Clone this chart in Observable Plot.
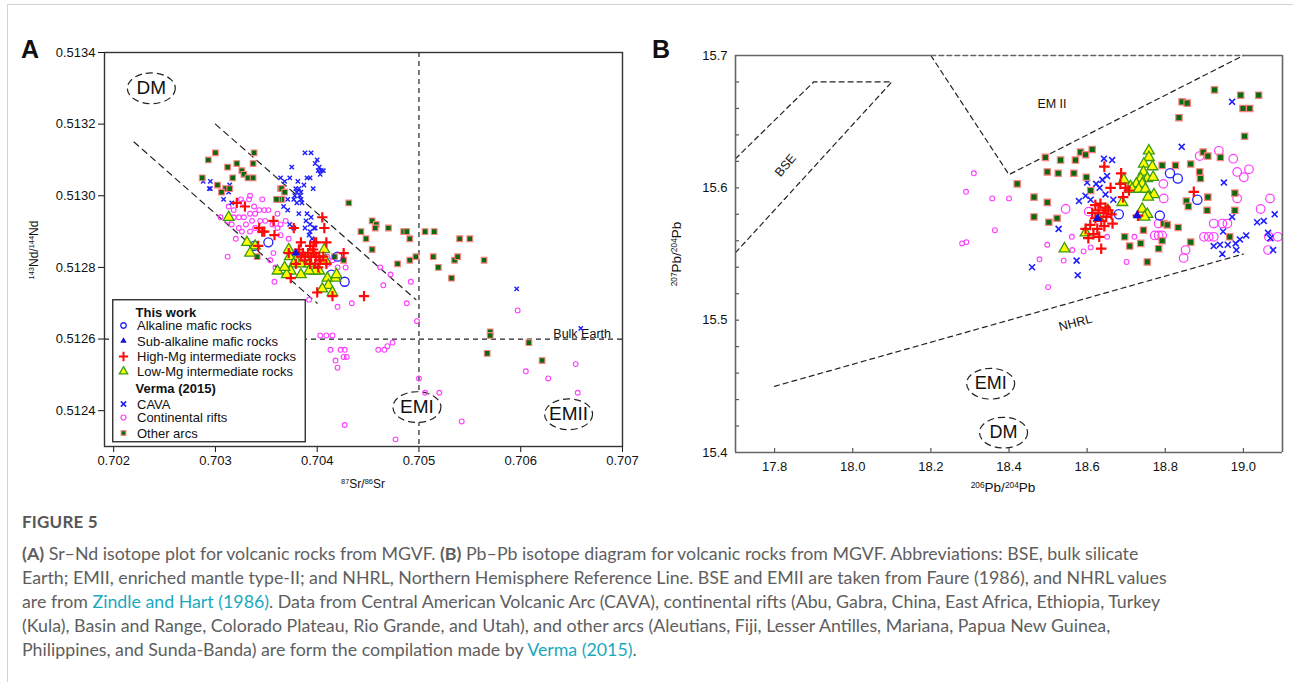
<!DOCTYPE html>
<html>
<head>
<meta charset="utf-8">
<script src="https://cdn.jsdelivr.net/npm/d3@7"></script>
<script src="https://cdn.jsdelivr.net/npm/@observablehq/plot@0.6"></script>
<style>
  html, body { margin: 0; padding: 0; background: #fff; }
  #page { position: relative; width: 1293px; height: 682px; overflow: hidden; background: #fff; }
  #card { position: absolute; left: 7px; top: 4px; width: 1300px; height: 700px; border-left: 1px solid #d4d4d4; border-top: 1px solid #d4d4d4; }
  .panel { position: absolute; top: 0; }
  .plabel { position: absolute; font-family: "Liberation Sans", Arial, sans-serif; font-weight: bold; font-size: 25px; color: #111; }
  .axl { position: absolute; font-family: "Liberation Sans", Arial, sans-serif; color: #111; white-space: nowrap; line-height: 1; }
  .axl sup { font-size: 0.62em; vertical-align: 0.55em; line-height: 0; }
  #cap { position: absolute; left: 22px; top: 511px; font-family: Lato, "Open Sans", sans-serif; color: #5e5e5e; }
  #cap .fig { font-size: 17px; font-weight: 700; line-height: 22px; color: #575757; letter-spacing: 0.2px; }
  #cap .body { font-size: 17.8px; line-height: 24px; white-space: nowrap; margin-top: 8px; }
  #cap .lnk { color: #19a9bd; }
  svg text { font-family: "Liberation Sans", Arial, sans-serif; }
</style>
</head>
<body>
<div id="page">
  <div id="card"></div>
  <div id="panelA" class="panel" style="left:0px;width:640px;height:500px"></div>
  <div id="panelB" class="panel" style="left:640px;width:653px;height:500px"></div>
  <div class="plabel" style="left:21px;top:35px">A</div>
  <div class="plabel" style="left:652px;top:35px">B</div>
  <div class="axl" style="left:34px;top:250px;font-size:12px;transform:translate(-50%,-50%) rotate(-90deg)"><sup>143</sup>Nd/<sup>144</sup>Nd</div>
  <div class="axl" style="left:363px;top:484px;font-size:12px;transform:translate(-50%,-50%)"><sup>87</sup>Sr/<sup>86</sup>Sr</div>
  <div class="axl" style="left:677px;top:254px;font-size:13.5px;transform:translate(-50%,-50%) rotate(-90deg)"><sup>207</sup>Pb/<sup>204</sup>Pb</div>
  <div class="axl" style="left:1003px;top:488px;font-size:13.5px;transform:translate(-50%,-50%)"><sup>206</sup>Pb/<sup>204</sup>Pb</div>
  <div id="cap">
    <div class="fig">FIGURE 5</div>
    <div class="body">
      <b>(A)</b> Sr–Nd isotope plot for volcanic rocks from MGVF. <b>(B)</b> Pb–Pb isotope diagram for volcanic rocks from MGVF. Abbreviations: BSE, bulk silicate<br>
      Earth; EMII, enriched mantle type-II; and NHRL, Northern Hemisphere Reference Line. BSE and EMII are taken from Faure (1986), and NHRL values<br>
      are from <span class="lnk">Zindle and Hart (1986)</span>. Data from Central American Volcanic Arc (CAVA), continental rifts (Abu, Gabra, China, East Africa, Ethiopia, Turkey<br>
      (Kula), Basin and Range, Colorado Plateau, Rio Grande, and Utah), and other arcs (Aleutians, Fiji, Lesser Antilles, Mariana, Papua New Guinea,<br>
      Philippines, and Sunda-Banda) are form the compilation made by <span class="lnk">Verma (2015)</span>.
    </div>
  </div>
</div>
<script>
// ---------------- Panel A: 87Sr/86Sr vs 143Nd/144Nd ----------------
const srTicks = [0.702, 0.703, 0.704, 0.705, 0.706, 0.707];
const ndTicks = [0.5124, 0.5126, 0.5128, 0.5130, 0.5132, 0.5134];

const aArcs = [[0.70287,0.51305],[0.70293,0.51310],[0.70300,0.51312],[0.70321,0.51309],[0.70337,0.51309],[0.70338,0.51312],[0.70312,0.51308],[0.70326,0.51307],[0.70328,0.51306],[0.70332,0.51305],[0.70337,0.51305],[0.70317,0.51305],[0.70302,0.51303],[0.70310,0.51302],[0.70314,0.51302],[0.70306,0.51301],[0.70364,0.51302],[0.70365,0.51302],[0.70368,0.51301],[0.70365,0.51299],[0.70362,0.51299],[0.70360,0.51299],[0.70431,0.51298],[0.70443,0.51290],[0.70454,0.51293],[0.70458,0.51292],[0.70457,0.51291],[0.70470,0.51291],[0.70448,0.51288],[0.70485,0.51290],[0.70488,0.51290],[0.70491,0.51288],[0.70506,0.51290],[0.70515,0.51290],[0.70454,0.51285],[0.70497,0.51283],[0.70491,0.51282],[0.70479,0.51281],[0.70514,0.51283],[0.70519,0.51280],[0.70540,0.51288],[0.70550,0.51288],[0.70535,0.51282],[0.70538,0.51283],[0.70564,0.51282],[0.70532,0.51277],[0.70570,0.51262],[0.70570,0.51261],[0.70608,0.51259],[0.70567,0.51256],[0.70621,0.51254],[0.70341,0.51283],[0.70417,0.51283],[0.70426,0.51282]];
const aCava = [[0.70388,0.51312],[0.70394,0.51312],[0.70400,0.51310],[0.70398,0.51309],[0.70402,0.51308],[0.70404,0.51307],[0.70406,0.51307],[0.70401,0.51307],[0.70403,0.51306],[0.70375,0.51308],[0.70373,0.51305],[0.70364,0.51305],[0.70390,0.51305],[0.70393,0.51305],[0.70368,0.51304],[0.70381,0.51304],[0.70379,0.51302],[0.70382,0.51302],[0.70384,0.51301],[0.70380,0.51301],[0.70387,0.51303],[0.70396,0.51302],[0.70378,0.51300],[0.70383,0.51300],[0.70380,0.51298],[0.70371,0.51299],[0.70377,0.51299],[0.70384,0.51299],[0.70385,0.51298],[0.70367,0.51297],[0.70371,0.51296],[0.70382,0.51295],[0.70390,0.51295],[0.70394,0.51294],[0.70389,0.51293],[0.70393,0.51292],[0.70373,0.51292],[0.70377,0.51291],[0.70388,0.51291],[0.70397,0.51291],[0.70393,0.51290],[0.70392,0.51289],[0.70395,0.51288],[0.70398,0.51291],[0.70295,0.51304],[0.70294,0.51302],[0.70308,0.51299],[0.70314,0.51303],[0.70316,0.51298],[0.70288,0.51304],[0.70295,0.51302],[0.70313,0.51301],[0.70596,0.51274],[0.70659,0.51263]];
const aRifts = [[0.70334,0.51300],[0.70333,0.51299],[0.70346,0.51299],[0.70313,0.51297],[0.70318,0.51296],[0.70325,0.51299],[0.70327,0.51298],[0.70338,0.51297],[0.70343,0.51296],[0.70348,0.51296],[0.70352,0.51296],[0.70305,0.51294],[0.70318,0.51294],[0.70323,0.51294],[0.70328,0.51294],[0.70334,0.51295],[0.70339,0.51295],[0.70361,0.51295],[0.70312,0.51293],[0.70316,0.51292],[0.70323,0.51291],[0.70330,0.51292],[0.70336,0.51293],[0.70344,0.51293],[0.70349,0.51293],[0.70356,0.51292],[0.70364,0.51292],[0.70369,0.51293],[0.70320,0.51288],[0.70326,0.51290],[0.70334,0.51290],[0.70339,0.51291],[0.70361,0.51291],[0.70364,0.51289],[0.70372,0.51288],[0.70357,0.51284],[0.70354,0.51282],[0.70359,0.51280],[0.70358,0.51276],[0.70410,0.51283],[0.70411,0.51281],[0.70415,0.51282],[0.70420,0.51280],[0.70428,0.51280],[0.70462,0.51280],[0.70472,0.51278],[0.70465,0.51275],[0.70492,0.51276],[0.70312,0.51283],[0.70392,0.51271],[0.70420,0.51269],[0.70434,0.51270],[0.70488,0.51270],[0.70498,0.51265],[0.70403,0.51261],[0.70409,0.51261],[0.70415,0.51261],[0.70413,0.51257],[0.70423,0.51257],[0.70427,0.51257],[0.70426,0.51255],[0.70429,0.51255],[0.70418,0.51254],[0.70420,0.51252],[0.70460,0.51257],[0.70466,0.51257],[0.70469,0.51258],[0.70474,0.51259],[0.70500,0.51249],[0.70506,0.51245],[0.70520,0.51245],[0.70542,0.51237],[0.70427,0.51236],[0.70477,0.51232],[0.70597,0.51268],[0.70605,0.51251],[0.70627,0.51249],[0.70654,0.51253],[0.70656,0.51245]];
const aHighMg = [[0.70321,0.51298],[0.70329,0.51297],[0.70357,0.51293],[0.70346,0.51290],[0.70343,0.51291],[0.70348,0.51290],[0.70358,0.51289],[0.70342,0.51286],[0.70377,0.51291],[0.70405,0.51294],[0.70407,0.51291],[0.70409,0.51287],[0.70384,0.51287],[0.70397,0.51287],[0.70399,0.51287],[0.70393,0.51286],[0.70426,0.51284],[0.70400,0.51273],[0.70446,0.51272],[0.70374,0.51277],[0.70372,0.51284],[0.70415,0.51272],[0.70382,0.51285],[0.70386,0.51284],[0.70388,0.51283],[0.70391,0.51284],[0.70394,0.51283],[0.70397,0.51284],[0.70399,0.51283],[0.70402,0.51283],[0.70403,0.51282],[0.70406,0.51283],[0.70393,0.51281],[0.70388,0.51282],[0.70398,0.51281],[0.70401,0.51280],[0.70384,0.51283],[0.70379,0.51281],[0.70409,0.51281],[0.70396,0.51285]];
const aLowMg = [[0.70313,0.51294],[0.70331,0.51287],[0.70339,0.51286],[0.70334,0.51284],[0.70372,0.51285],[0.70373,0.51283],[0.70379,0.51282],[0.70377,0.51281],[0.70384,0.51281],[0.70392,0.51281],[0.70393,0.51284],[0.70407,0.51285],[0.70408,0.51282],[0.70402,0.51279],[0.70398,0.51279],[0.70392,0.51279],[0.70384,0.51278],[0.70374,0.51279],[0.70370,0.51278],[0.70361,0.51279],[0.70410,0.51277],[0.70411,0.51275],[0.70418,0.51277],[0.70405,0.51274],[0.70415,0.51273],[0.70419,0.51278],[0.70368,0.51280]];
const aAlkaline = [[0.70352,0.51287],[0.70338,0.51286],[0.70420,0.51283],[0.70414,0.51278],[0.70427,0.51276]];
const aSubAlk = [[0.70379,0.51284]];

const aTrendLow = [[0.7022,0.51315],[0.7040,0.51270]];
const aTrendHigh = [[0.7030,0.51320],[0.70497,0.51271]];
const aBulkSr = [0.705];
const aBulkNd = [0.5126];
const aFields = [{name:"DM",x:0.70237,y:0.51330},{name:"EMI",x:0.70498,y:0.51241},{name:"EMII",x:0.70647,y:0.51239}];
const aBulkLabel = [{name:"Bulk Earth",x:0.70632,y:0.512615}];

// ---------------- Panel B: 206Pb/204Pb vs 207Pb/204Pb ----------------
const pbTicksX = [17.8, 18.0, 18.2, 18.4, 18.6, 18.8, 19.0];
const pbTicksY = [15.4, 15.5, 15.6, 15.7];
const pbMinorY = [15.42,15.44,15.46,15.48,15.5,15.52,15.54,15.56,15.58,15.6,15.62,15.64,15.66,15.68];

const bArcs = [[18.421,15.603],[18.493,15.623],[18.532,15.621],[18.570,15.621],[18.583,15.627],[18.596,15.625],[18.613,15.629],[18.498,15.612],[18.526,15.611],[18.566,15.611],[18.598,15.608],[18.464,15.593],[18.498,15.589],[18.464,15.578],[18.502,15.574],[18.523,15.577],[18.609,15.598],[18.792,15.617],[18.826,15.617],[18.865,15.618],[18.854,15.590],[18.859,15.586],[18.796,15.573],[18.805,15.572],[18.833,15.570],[18.744,15.568],[18.696,15.563],[18.709,15.556],[18.737,15.558],[18.783,15.554],[18.865,15.559],[18.754,15.544],[18.926,15.674],[18.993,15.670],[19.039,15.670],[18.843,15.665],[18.856,15.664],[18.999,15.660],[19.016,15.660],[18.835,15.653],[19.003,15.639],[18.897,15.627],[18.909,15.624],[18.941,15.623],[18.888,15.612],[18.890,15.607],[18.909,15.593],[18.978,15.596],[18.907,15.583],[18.978,15.583],[18.965,15.563],[18.792,15.560]];
const bCava = [[18.600,15.604],[18.623,15.603],[18.579,15.590],[18.596,15.594],[18.609,15.591],[18.527,15.569],[18.459,15.540],[18.573,15.545],[18.576,15.534],[18.643,15.622],[18.664,15.621],[18.651,15.609],[18.639,15.606],[18.632,15.600],[18.647,15.595],[18.667,15.591],[18.842,15.631],[18.971,15.665],[18.950,15.604],[18.971,15.578],[18.948,15.567],[19.007,15.564],[19.035,15.574],[19.052,15.575],[19.080,15.580],[19.063,15.566],[18.924,15.556],[18.940,15.557],[18.960,15.557],[18.980,15.558],[18.991,15.561],[18.982,15.553],[18.946,15.550],[19.069,15.562],[19.076,15.553]];
const bRifts = [[18.310,15.611],[18.290,15.597],[18.357,15.592],[18.400,15.592],[18.364,15.568],[18.280,15.558],[18.291,15.559],[18.498,15.557],[18.478,15.546],[18.540,15.545],[18.562,15.553],[18.591,15.552],[18.561,15.563],[18.609,15.555],[18.651,15.563],[18.701,15.544],[18.500,15.525],[18.721,15.563]];
const bRiftsLarge = [[18.545,15.584],[18.604,15.582],[18.795,15.603],[18.796,15.592],[18.773,15.564],[18.783,15.564],[18.792,15.564],[18.852,15.553],[18.847,15.547],[18.937,15.628],[18.888,15.624],[18.974,15.622],[19.014,15.614],[18.984,15.612],[19.001,15.608],[18.984,15.592],[19.068,15.592],[19.044,15.584],[18.783,15.573],[18.924,15.573],[18.946,15.573],[18.959,15.573],[18.899,15.563],[18.911,15.563],[18.924,15.563],[19.065,15.563],[19.088,15.563],[19.063,15.553]];
const bHighMg = [[18.644,15.616],[18.687,15.611],[18.660,15.600],[18.685,15.603],[18.698,15.600],[18.707,15.598],[18.692,15.593],[18.873,15.597],[18.730,15.579],[18.636,15.554],[18.621,15.587],[18.634,15.588],[18.647,15.585],[18.613,15.581],[18.629,15.583],[18.642,15.581],[18.654,15.583],[18.621,15.577],[18.636,15.575],[18.649,15.578],[18.662,15.580],[18.608,15.572],[18.626,15.569],[18.644,15.571],[18.616,15.565],[18.596,15.569],[18.665,15.573],[18.603,15.562],[18.631,15.563]];
const bLowMg = [[18.758,15.628],[18.758,15.623],[18.745,15.618],[18.767,15.616],[18.744,15.612],[18.754,15.607],[18.769,15.608],[18.737,15.607],[18.694,15.606],[18.711,15.601],[18.726,15.603],[18.741,15.603],[18.715,15.599],[18.732,15.599],[18.749,15.599],[18.771,15.595],[18.756,15.593],[18.690,15.589],[18.653,15.583],[18.741,15.584],[18.754,15.580],[18.747,15.578],[18.596,15.566],[18.542,15.554],[18.630,15.577]];
const bAlkaline = [[18.812,15.611],[18.832,15.607],[18.681,15.580],[18.786,15.579],[18.882,15.591]];
const bSubAlk = [[18.627,15.577],[18.728,15.579]];

const bBSE = [[17.70,15.622],[17.90,15.68],[18.10,15.68],[17.70,15.551]];
const bEM2 = [[18.20,15.70],[18.40,15.61],[19.00,15.70]];
const bEM2Top = [[18.20,15.70],[19.00,15.70]];
const bNHRL = [[17.80,15.45],[19.00,15.55]];
const bFields = [{name:"EMI",x:18.353,y:15.452},{name:"DM",x:18.386,y:15.415}];
const bLabels = [{name:"BSE",x:17.828,y:15.617,rot:-50},{name:"EM II",x:18.51,y:15.663,rot:0},{name:"NHRL",x:18.57,y:15.498,rot:-15}];

// ---------------- styles ----------------
const C = {
  blue: "#1f1fff", red: "#ff0a0a", yellow: "#ffff00", triEdge: "#3b9a12",
  magenta: "#ff3dff", arcFill: "#0b6a10", arcEdge: "#ff8080", dash: "#222"
};
const ellipse = {
  draw(ctx, size) {
    const rx = Math.sqrt(size / Math.PI), ry = rx * 0.64, k = 0.5523;
    ctx.moveTo(rx, 0);
    ctx.bezierCurveTo(rx, ry * k, rx * k, ry, 0, ry);
    ctx.bezierCurveTo(-rx * k, ry, -rx, ry * k, -rx, 0);
    ctx.bezierCurveTo(-rx, -ry * k, -rx * k, -ry, 0, -ry);
    ctx.bezierCurveTo(rx * k, -ry, rx, -ry * k, rx, 0);
    ctx.closePath();
  }
};
const X = d => d[0], Y = d => d[1];
const font = "Liberation Sans, Arial, sans-serif";

const plotA = Plot.plot({
  width: 640, height: 500,
  marginLeft: 104, marginRight: 18, marginTop: 52, marginBottom: 54,
  style: {fontFamily: font, fontSize: "13px", color: "#111", background: "transparent", overflow: "visible", maxWidth: "none"},
  x: {domain: [0.70191, 0.707], ticks: srTicks, tickFormat: d3.format(".3f"), tickSize: 6, tickPadding: 3, label: null},
  y: {domain: [0.5123, 0.5134], ticks: ndTicks, tickFormat: d3.format(".4f"), tickSize: 6, tickPadding: 3, label: null},
  marks: [
    Plot.ruleX(aBulkSr, {stroke: C.dash, strokeWidth: 1.2, strokeDasharray: "5,4"}),
    Plot.ruleY(aBulkNd, {stroke: C.dash, strokeWidth: 1.2, strokeDasharray: "5,4"}),
    Plot.line(aTrendLow, {x: X, y: Y, stroke: C.dash, strokeWidth: 1.2, strokeDasharray: "6,5"}),
    Plot.line(aTrendHigh, {x: X, y: Y, stroke: C.dash, strokeWidth: 1.2, strokeDasharray: "6,5"}),
    Plot.dot(aFields, {x: "x", y: "y", r: 24, symbol: ellipse, fill: "white", stroke: "#222", strokeWidth: 1.2, strokeDasharray: "7,4"}),
    Plot.text(aFields, {x: "x", y: "y", text: "name", fontSize: 19, fill: "#111"}),
    Plot.text(aBulkLabel, {x: "x", y: "y", text: "name", fontSize: 12.5, textAnchor: "start", fill: "#111"}),
    Plot.dot(aRifts, {x: X, y: Y, r: 2.4, fill: "none", stroke: C.magenta, strokeWidth: 1.1}),
    Plot.dot(aCava, {x: X, y: Y, r: 2.1, symbol: "times", stroke: C.blue, strokeWidth: 1.4}),
    Plot.dot(aArcs, {x: X, y: Y, r: 3.2, symbol: "square", fill: C.arcFill, stroke: C.arcEdge, strokeWidth: 1.1}),
    Plot.dot(aAlkaline, {x: X, y: Y, r: 4.5, fill: "none", stroke: C.blue, strokeWidth: 1.3}),
    Plot.dot(aLowMg, {x: X, y: Y, r: 3.9, symbol: "triangle", fill: C.yellow, stroke: C.triEdge, strokeWidth: 1.3}),
    Plot.dot(aHighMg, {x: X, y: Y, r: 3.4, symbol: "plus", fill: "none", stroke: C.red, strokeWidth: 2.2}),
    Plot.dot(aSubAlk, {x: X, y: Y, r: 3.2, symbol: "triangle", fill: "#1010dd", stroke: "none"}),
    Plot.frame({stroke: "#333", strokeWidth: 1.4})
  ]
});
document.getElementById("panelA").appendChild(plotA);

const plotB = Plot.plot({
  width: 653, height: 500,
  marginLeft: 95, marginRight: 11, marginTop: 55, marginBottom: 48,
  style: {fontFamily: font, fontSize: "13px", color: "#111", background: "transparent", overflow: "visible", maxWidth: "none"},
  x: {domain: [17.7, 19.1], ticks: pbTicksX, tickFormat: d3.format(".1f"), tickSize: 0, tickPadding: 9, label: null},
  y: {domain: [15.4, 15.7], ticks: pbTicksY, tickFormat: d3.format(".1f"), tickSize: 0, tickPadding: 8, label: null},
  marks: [
    Plot.line(bBSE, {x: X, y: Y, stroke: C.dash, strokeWidth: 1.2, strokeDasharray: "5,4"}),
    Plot.line(bEM2, {x: X, y: Y, stroke: C.dash, strokeWidth: 1.2, strokeDasharray: "5,4"}),
    Plot.line(bEM2Top, {x: X, y: Y, stroke: "#666", strokeWidth: 1.4, strokeDasharray: "5,3"}),
    Plot.line(bNHRL, {x: X, y: Y, stroke: C.dash, strokeWidth: 1.2, strokeDasharray: "5,4"}),
    Plot.dot(bFields, {x: "x", y: "y", r: 24, symbol: ellipse, fill: "white", stroke: "#222", strokeWidth: 1.2, strokeDasharray: "7,4"}),
    Plot.text(bFields, {x: "x", y: "y", text: "name", fontSize: 18, fill: "#111"}),
    Plot.text(bLabels, {x: "x", y: "y", text: "name", rotate: d => d.rot, fontSize: 12.5, fill: "#111"}),
    Plot.dot(bRifts, {x: X, y: Y, r: 2.4, fill: "none", stroke: C.magenta, strokeWidth: 1.1}),
    Plot.dot(bRiftsLarge, {x: X, y: Y, r: 4.3, fill: "none", stroke: C.magenta, strokeWidth: 1.2}),
    Plot.dot(bCava, {x: X, y: Y, r: 2.8, symbol: "times", stroke: C.blue, strokeWidth: 1.6}),
    Plot.dot(bArcs, {x: X, y: Y, r: 3.6, symbol: "square", fill: C.arcFill, stroke: C.arcEdge, strokeWidth: 1.2}),
    Plot.dot(bAlkaline, {x: X, y: Y, r: 4.6, fill: "none", stroke: C.blue, strokeWidth: 1.3}),
    Plot.dot(bLowMg, {x: X, y: Y, r: 4.0, symbol: "triangle", fill: C.yellow, stroke: C.triEdge, strokeWidth: 1.3}),
    Plot.dot(bHighMg, {x: X, y: Y, r: 3.5, symbol: "plus", fill: "none", stroke: C.red, strokeWidth: 2.2}),
    Plot.dot(bSubAlk, {x: X, y: Y, r: 3.4, symbol: "triangle", fill: "#1010dd", stroke: "none"}),
    Plot.tickX(pbTicksX, {x: d => d, insetTop: 393, stroke: "#555", strokeWidth: 1.2}),
    Plot.tickY(pbMinorY, {y: d => d, insetRight: 543, stroke: "#555", strokeWidth: 1.2}),
    Plot.ruleX([17.7, 19.1], {stroke: "#666", strokeWidth: 1.6}),
    Plot.ruleY([15.4], {stroke: "#666", strokeWidth: 1.6}),
    Plot.ruleY([15.7], {x1: 17.7, x2: 18.2, stroke: "#666", strokeWidth: 1.6}),
    Plot.ruleY([15.7], {x1: 19.0, x2: 19.1, stroke: "#666", strokeWidth: 1.6})
  ]
});
document.getElementById("panelB").appendChild(plotB);

// ---------------- Legend (panel A) ----------------
const legendRows = [
  {label: "This work", head: true},
  {label: "Alkaline mafic rocks", type: d3.symbolCircle, size: 24, fill: "none", stroke: C.blue, sw: 1.3},
  {label: "Sub-alkaline mafic rocks", type: d3.symbolTriangle, size: 18, fill: "#1010dd", stroke: "none", sw: 0},
  {label: "High-Mg intermediate rocks", type: d3.symbolPlus, size: 30, fill: "none", stroke: C.red, sw: 2},
  {label: "Low-Mg intermediate rocks", type: d3.symbolTriangle, size: 30, fill: C.yellow, stroke: C.triEdge, sw: 1.3},
  {label: "Verma (2015)", head: true},
  {label: "CAVA", type: d3.symbolTimes, size: 20, fill: "none", stroke: C.blue, sw: 1.5},
  {label: "Continental rifts", type: d3.symbolCircle, size: 20, fill: "none", stroke: C.magenta, sw: 1.2},
  {label: "Other arcs", type: d3.symbolSquare, size: 22, fill: C.arcFill, stroke: C.arcEdge, sw: 1.1}
];
const legY = [13, 26.5, 42, 57.5, 72.5, 89, 105, 118.5, 134];
const leg = d3.select("#page").append("svg")
  .attr("width", 195).attr("height", 145)
  .style("position", "absolute").style("left", "112px").style("top", "299px");
leg.append("rect").attr("x", 0.75).attr("y", 0.75).attr("width", 192.5).attr("height", 142)
  .attr("fill", "white").attr("stroke", "#222").attr("stroke-width", 1.3);
legendRows.forEach((r, i) => {
  const y = legY[i];
  if (r.head) {
    leg.append("text").attr("x", 23.5).attr("y", y).attr("dy", "0.35em")
      .attr("font-size", 13).attr("font-weight", "bold").attr("fill", "#111").text(r.label);
  } else {
    leg.append("path").attr("transform", `translate(11.5,${y})`)
      .attr("d", d3.symbol().type(r.type).size(r.size)())
      .attr("fill", r.fill).attr("stroke", r.stroke).attr("stroke-width", r.sw);
    leg.append("text").attr("x", 25).attr("y", y).attr("dy", "0.35em")
      .attr("font-size", 13).attr("fill", "#111").text(r.label);
  }
});
</script>
</body>
</html>
